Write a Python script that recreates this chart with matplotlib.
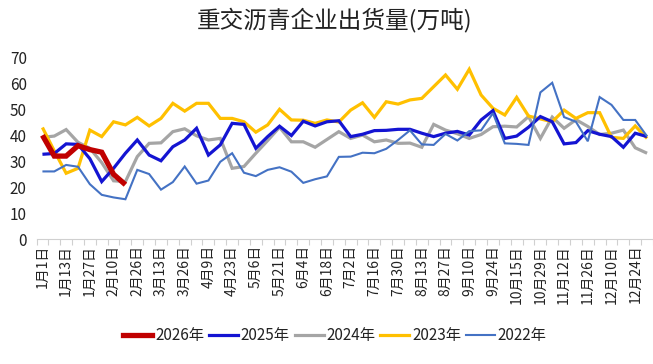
import matplotlib
matplotlib.use("Agg")
import matplotlib.pyplot as plt
from matplotlib.lines import Line2D

plt.rcParams['font.family'] = ['Noto Sans CJK SC', 'DejaVu Sans']

title = "重交沥青企业出货量(万吨)"
tick_labels = ["1月1日", "1月13日", "1月27日", "2月10日", "2月26日", "3月13日", "3月26日",
               "4月9日", "4月23日", "5月6日", "5月21日", "6月4日", "6月18日", "7月2日",
               "7月16日", "7月30日", "8月13日", "8月27日", "9月10日", "9月24日",
               "10月15日", "10月29日", "11月12日", "11月26日", "12月10日", "12月24日"]
n_categories = 52

y2026 = [40, 32, 32, 36, 34.5, 33.5, 25, 21]
y2025 = [32.7, 33, 36.7, 36.5, 31, 22.2, 27.3, 33.1, 38.2, 32.4, 30.2, 35.6, 38.2, 42.7,
         32.4, 36.3, 44.6, 44.2, 35, 39.5, 43.5, 39.9, 45.4, 43.6, 45.2, 45.6, 39.5, 40.4,
         41.8, 41.9, 42.3, 42.3, 40.8, 39.5, 40.8, 41.5, 40.1, 45.9, 49.5, 38.8, 39.7, 43.1,
         47.2, 45.2, 36.7, 37.2, 41.8, 40.4, 39.5, 35.4, 40.8, 39.5]
y2024 = [39.2, 39.7, 42.2, 37.3, 35, 29.5, 22.5, 22.2, 31.8, 36.9, 37.1, 41.4, 42.5, 39.8,
         38.2, 38.8, 27.3, 28, 33.1, 38, 43.1, 37.5, 37.5, 35.4, 38.4, 41.4, 38.8, 40.1,
         37.5, 38.2, 36.9, 37, 35.4, 44.2, 42, 40.6, 38.8, 40.3, 43.3, 43.5, 43.2, 47.2,
         38.8, 47, 42.7, 46, 43.4, 40.3, 40.8, 42, 35.2, 33.1]
y2023 = [43, 34, 25.4, 27.3, 42, 39.5, 45.2, 44, 46.9, 43.6, 46.5, 52.3, 49.3, 52.3, 52.3,
         46.5, 46.5, 45.2, 41.2, 44, 50, 45.9, 45.8, 44.6, 45.9, 45.1, 49.7, 52.5, 46.9,
         52.9, 52, 53.6, 54.2, 58.7, 63.2, 57.7, 65.4, 55.5, 50.4, 47.8, 54.6, 47.4, 46.3,
         45.2, 49.7, 46.5, 48.7, 48.7, 39.2, 38.8, 43.6, 38.8]
y2022 = [26.1, 26.1, 28.6, 27.9, 21.2, 17.1, 16.1, 15.4, 26.7, 25.1, 19.1, 22, 28, 21.4,
         22.6, 29.8, 33.1, 25.6, 24.3, 26.7, 27.7, 26, 21.7, 23.1, 24.2, 31.7, 31.8, 33.3,
         33.1, 34.8, 38.2, 41.9, 36.5, 36.3, 40.5, 38, 41.6, 41.9, 48.5, 36.9, 36.7, 36.3,
         56.5, 60.2, 47, 45.2, 37.7, 54.7, 51.7, 45.9, 45.9, 39.6]

series = [
    ("2026年", y2026, "#C00000", 3.8, 10),
    ("2025年", y2025, "#1414D2", 2.3, 8),
    ("2024年", y2024, "#A5A5A5", 2.3, 6),
    ("2023年", y2023, "#FFC000", 2.3, 7),
    ("2022年", y2022, "#4472C4", 1.5, 9),
]

fig = plt.figure(figsize=(6.53, 3.64), dpi=100)
ax = fig.add_axes([0.0559, 0.3426, 1 - 0.0559, 0.5])

for name, vals, color, lw, z in series:
    ax.plot(range(len(vals)), vals, color=color, lw=lw, zorder=z,
            solid_joinstyle='miter', solid_capstyle='butt')

ax.set_xlim(-0.5, 51.17)
ax.set_ylim(0, 70)
ax.set_yticks(range(0, 71, 10))
ax.tick_params(axis='y', length=0, pad=7, labelsize=11, labelcolor='#222222')

ax.set_xticks(range(0, 2 * len(tick_labels), 2))
ax.set_xticklabels(tick_labels, rotation=90, fontsize=10, color='#222222')
ax.tick_params(axis='x', length=0, pad=4)
ax.set_xticks([i - 0.5 for i in range(n_categories + 1)], minor=True)
ax.tick_params(axis='x', which='minor', length=4, color='#D0D0D0', width=0.8)

for s in ['top', 'right', 'left']:
    ax.spines[s].set_visible(False)
ax.spines['bottom'].set_color('#D0D0D0')
ax.spines['bottom'].set_linewidth(0.8)

fig.text(0.513, 0.945, title, ha='center', va='center', fontsize=17, color='#222222')

handles = [Line2D([0], [0], color=c, lw=lw) for _, _, c, lw, _ in series]
labels = [n for n, *_ in series]
fig.legend(handles, labels, loc='center', bbox_to_anchor=(0.513, 0.077), ncol=5,
           frameon=False, fontsize=11, handlelength=1.9, handletextpad=0.2,
           columnspacing=0.3, labelcolor='#222222')

fig.savefig("out.png", dpi=100)
